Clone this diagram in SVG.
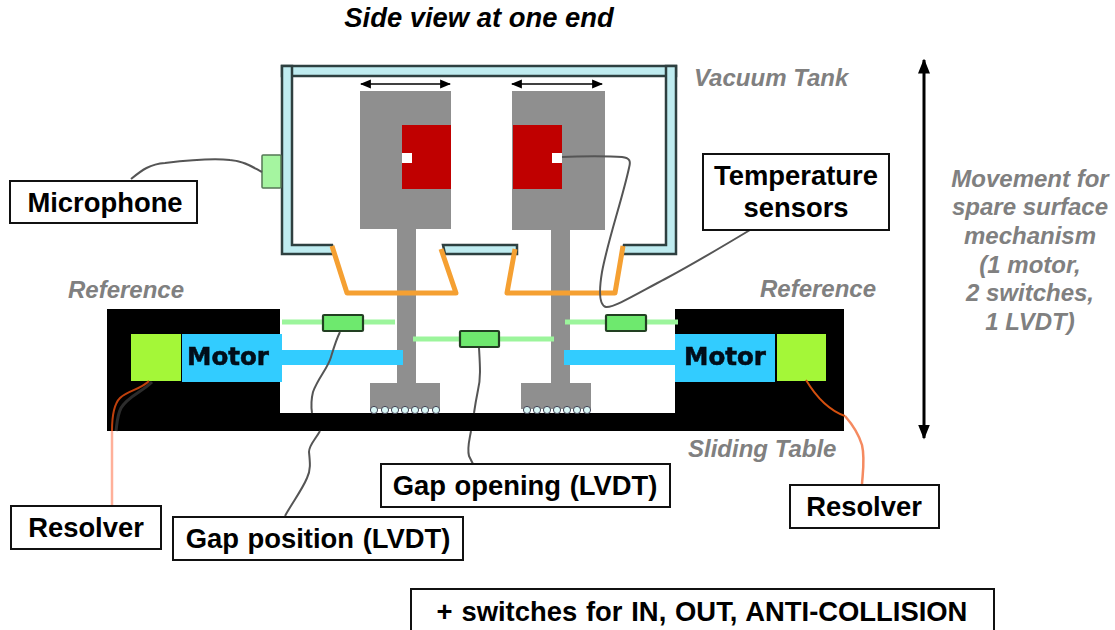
<svg xmlns="http://www.w3.org/2000/svg" width="1115" height="630" viewBox="0 0 1115 630">
<style>
text{font-family:"Liberation Sans",Arial,sans-serif}
.g{font-weight:700;font-style:italic;fill:#808080;font-size:24px}
.l{font-weight:700;fill:#000;font-size:27.4px;text-anchor:middle}
.box{fill:#fff;stroke:#111;stroke-width:2}
.wall{fill:#bfecf0;stroke:#2f4040;stroke-width:2.5}
.grey{fill:#8f8f8f}
.red{fill:#c00000}
.o{fill:none;stroke:#f5a033;stroke-width:5;stroke-linejoin:round}
.w{fill:none;stroke:#555;stroke-width:2;stroke-linejoin:round}
.rod{stroke:#9cf59c;stroke-width:5}
.sw{fill:#6ee96e;stroke:#243f24;stroke-width:2.2}
.blue{fill:#33ccff}
.lime{fill:#a4f738}
.m{font-family:"DejaVu Sans",sans-serif;font-weight:700;font-size:24.5px;fill:#04101a;stroke:#04101a;stroke-width:.6;text-anchor:middle}
.wh{fill:#d8f6f6;stroke:#445;stroke-width:1}
.ar{stroke:#000;fill:none}
.soft{filter:url(#b)}
</style>
<defs>
<filter id="b" x="-5%" y="-5%" width="110%" height="110%"><feGaussianBlur stdDeviation="0.5"/></filter>
<marker id="ah" viewBox="0 0 10 10" refX="9" refY="5" markerWidth="11" markerHeight="11" orient="auto-start-reverse" markerUnits="userSpaceOnUse"><path d="M0 1L10 5L0 9Z" fill="#000"/></marker>
<marker id="big" viewBox="0 0 10 10" refX="9" refY="5" markerWidth="15" markerHeight="15" orient="auto-start-reverse" markerUnits="userSpaceOnUse"><path d="M0 1L10 5L0 9Z" fill="#000"/></marker>
</defs>
<rect width="1115" height="630" fill="#fff"/>
<text id="title" x="479" y="27" text-anchor="middle" font-size="27.4" font-weight="700" font-style="italic">Side view at one end</text>

<g id="sliding-table" class="soft">
<path d="M107 309H280V413H675V309H844V431H107Z" fill="#000"/>
</g>
<g id="vacuum-tank" class="soft">
<rect class="wall" x="282" y="66" width="394" height="10"/>
<path class="wall" d="M282 66H292V245H332L334 254H282Z"/>
<path class="wall" d="M666 66H676V254H622L624 245H666Z"/>
<path class="wall" d="M443 245H517V254H445Z"/>
</g>
<g id="carriage-left" class="soft">
<rect class="grey" x="397" y="229" width="19" height="154"/>
<rect class="grey" x="360" y="91" width="91" height="138"/>
<rect class="red" x="402" y="125" width="49" height="64"/>
<rect x="402" y="153" width="10" height="10" fill="#fff"/>
<rect class="grey" x="370" y="383" width="70" height="26"/>
<g class="wh"><circle cx="374" cy="410" r="3.6"/><circle cx="385" cy="410" r="3.6"/><circle cx="395" cy="410" r="3.6"/><circle cx="405" cy="410" r="3.6"/><circle cx="415" cy="410" r="3.6"/><circle cx="425" cy="410" r="3.6"/><circle cx="436" cy="410" r="3.6"/></g>
</g>
<g id="carriage-right" class="soft">
<rect class="grey" x="551" y="230" width="19" height="153"/>
<rect class="grey" x="512" y="91" width="93" height="139"/>
<rect class="red" x="513" y="125" width="49" height="64"/>
<rect x="552" y="153" width="10" height="10" fill="#fff"/>
<rect class="grey" x="521" y="383" width="70" height="26"/>
<g class="wh"><circle cx="527" cy="410" r="3.6"/><circle cx="537" cy="410" r="3.6"/><circle cx="547" cy="410" r="3.6"/><circle cx="557" cy="410" r="3.6"/><circle cx="567" cy="410" r="3.6"/><circle cx="577" cy="410" r="3.6"/><circle cx="587" cy="410" r="3.6"/></g>
</g>
<g id="bellows" class="soft">
<path class="o" d="M332 246L347 293H456L441 249"/>
<path class="o" d="M515 249L507 293H615L623 246"/>
</g>
<g id="motor-left" class="soft">
<rect class="lime" x="131" y="334" width="50" height="47"/>
<rect class="blue" x="182" y="334" width="100" height="48"/>
<rect class="blue" x="282" y="350" width="121" height="15"/>
<text class="m" x="228" y="365">Motor</text>
</g>
<g id="motor-right" class="soft">
<rect class="blue" x="675" y="334" width="100" height="48"/>
<rect class="lime" x="777" y="334" width="49" height="47"/>
<rect class="blue" x="564" y="350" width="111" height="15"/>
<text class="m" x="725" y="365">Motor</text>
</g>
<g id="lvdt-left" class="soft">
<line class="rod" x1="282" y1="322" x2="395" y2="322"/>
<rect class="sw" x="323" y="315" width="40" height="16" rx="1"/>
</g>
<g id="lvdt-middle" class="soft">
<line class="rod" x1="413" y1="339" x2="554" y2="339"/>
<rect class="sw" x="460" y="331" width="39" height="16" rx="1"/>
</g>
<g id="lvdt-right" class="soft">
<line class="rod" x1="565" y1="322" x2="678" y2="322"/>
<rect class="sw" x="606" y="315" width="40" height="16" rx="1"/>
</g>
<g id="microphone-sensor" class="soft">
<rect x="262" y="155" width="19" height="33" rx="1" fill="#a5f5a0" stroke="#557755" stroke-width="1.5"/>
</g>

<g id="connectors">
<path class="ar" stroke-width="1.5" d="M361 84H450" marker-start="url(#ah)" marker-end="url(#ah)"/>
<path class="ar" stroke-width="1.5" d="M512 84H602" marker-start="url(#ah)" marker-end="url(#ah)"/>
<path class="ar" stroke-width="3" d="M924 60V438" marker-start="url(#big)" marker-end="url(#big)"/>
<path class="w" d="M131 179C142 170 150 164 165 163C190 160 212 158 230 160C245 161 254 168 262 172"/>
<path class="w" d="M562 157C580 156 610 156 622 157C630 158 631 161 629 168C622 200 608 240 602 272C599 290 599 305 606 307C614 308 640 292 665 279C695 263 725 245 750 230"/>
<path class="w" d="M340 332C336 340 334 347 331 357C328 368 318 378 313 392C311 400 311 406 312 413"/>
<path class="w" d="M320 431C315 440 309 445 309 452C310 462 311 470 307 478C302 490 292 503 285 516"/>
<path class="w" d="M479 348C480 365 481 378 478 390C476 400 475 406 474 413"/>
<path class="w" d="M471 431C469 442 467 448 469 456L473 464"/>
<path fill="none" stroke="#2c2c2c" stroke-width="3" d="M152 382C142 392 128 396 121 408C117 416 117 424 116 431"/>
<path fill="none" stroke="#c0400c" stroke-width="2" d="M149 381C140 390 128 390 120 398C114 404 112 414 112 431"/>
<path fill="none" stroke="#ffb09a" stroke-width="2.5" d="M112 431V506"/>
<path fill="none" stroke="#d4500f" stroke-width="2" d="M806 380C815 395 828 410 845 416"/>
<path fill="none" stroke="#f58a60" stroke-width="2.5" d="M845 416C852 424 858 432 862 445C865 458 863 470 862 484"/>
</g>

<g id="label-microphone"><rect class="box" x="10" y="181" width="187" height="42"/><text class="l" x="105" y="212">Microphone</text></g>
<g id="label-temperature"><rect class="box" x="703" y="154" width="186" height="76"/><text class="l" x="796" y="185">Temperature</text><text class="l" x="796" y="217">sensors</text></g>
<g id="label-resolver-left"><rect class="box" x="11" y="506" width="150" height="43"/><text class="l" x="86" y="537">Resolver</text></g>
<g id="label-gap-position"><rect class="box" x="173" y="517" width="290" height="43"/><text class="l" x="318" y="548" word-spacing="1">Gap position (LVDT)</text></g>
<g id="label-gap-opening"><rect class="box" x="381" y="464" width="289" height="43"/><text class="l" x="525" y="495" word-spacing="1">Gap opening (LVDT)</text></g>
<g id="label-resolver-right"><rect class="box" x="790" y="485" width="149" height="43"/><text class="l" x="864" y="516">Resolver</text></g>
<g id="label-switches"><rect class="box" x="411" y="589" width="583" height="50"/><text class="l" x="702" y="621" word-spacing="1.2">+ switches for IN, OUT, ANTI-COLLISION</text></g>

<g id="notes">
<text class="g" x="694" y="86">Vacuum Tank</text>
<text class="g" x="68" y="298">Reference</text>
<text class="g" x="760" y="297">Reference</text>
<text class="g" x="688" y="457">Sliding Table</text>
<g style="text-anchor:middle">
<text class="g" x="1030" y="187">Movement for</text>
<text class="g" x="1030" y="215">spare surface</text>
<text class="g" x="1030" y="244">mechanism</text>
<text class="g" x="1030" y="273">(1 motor,</text>
<text class="g" x="1030" y="301">2 switches,</text>
<text class="g" x="1030" y="330">1 LVDT)</text>
</g>
</g>
</svg>
